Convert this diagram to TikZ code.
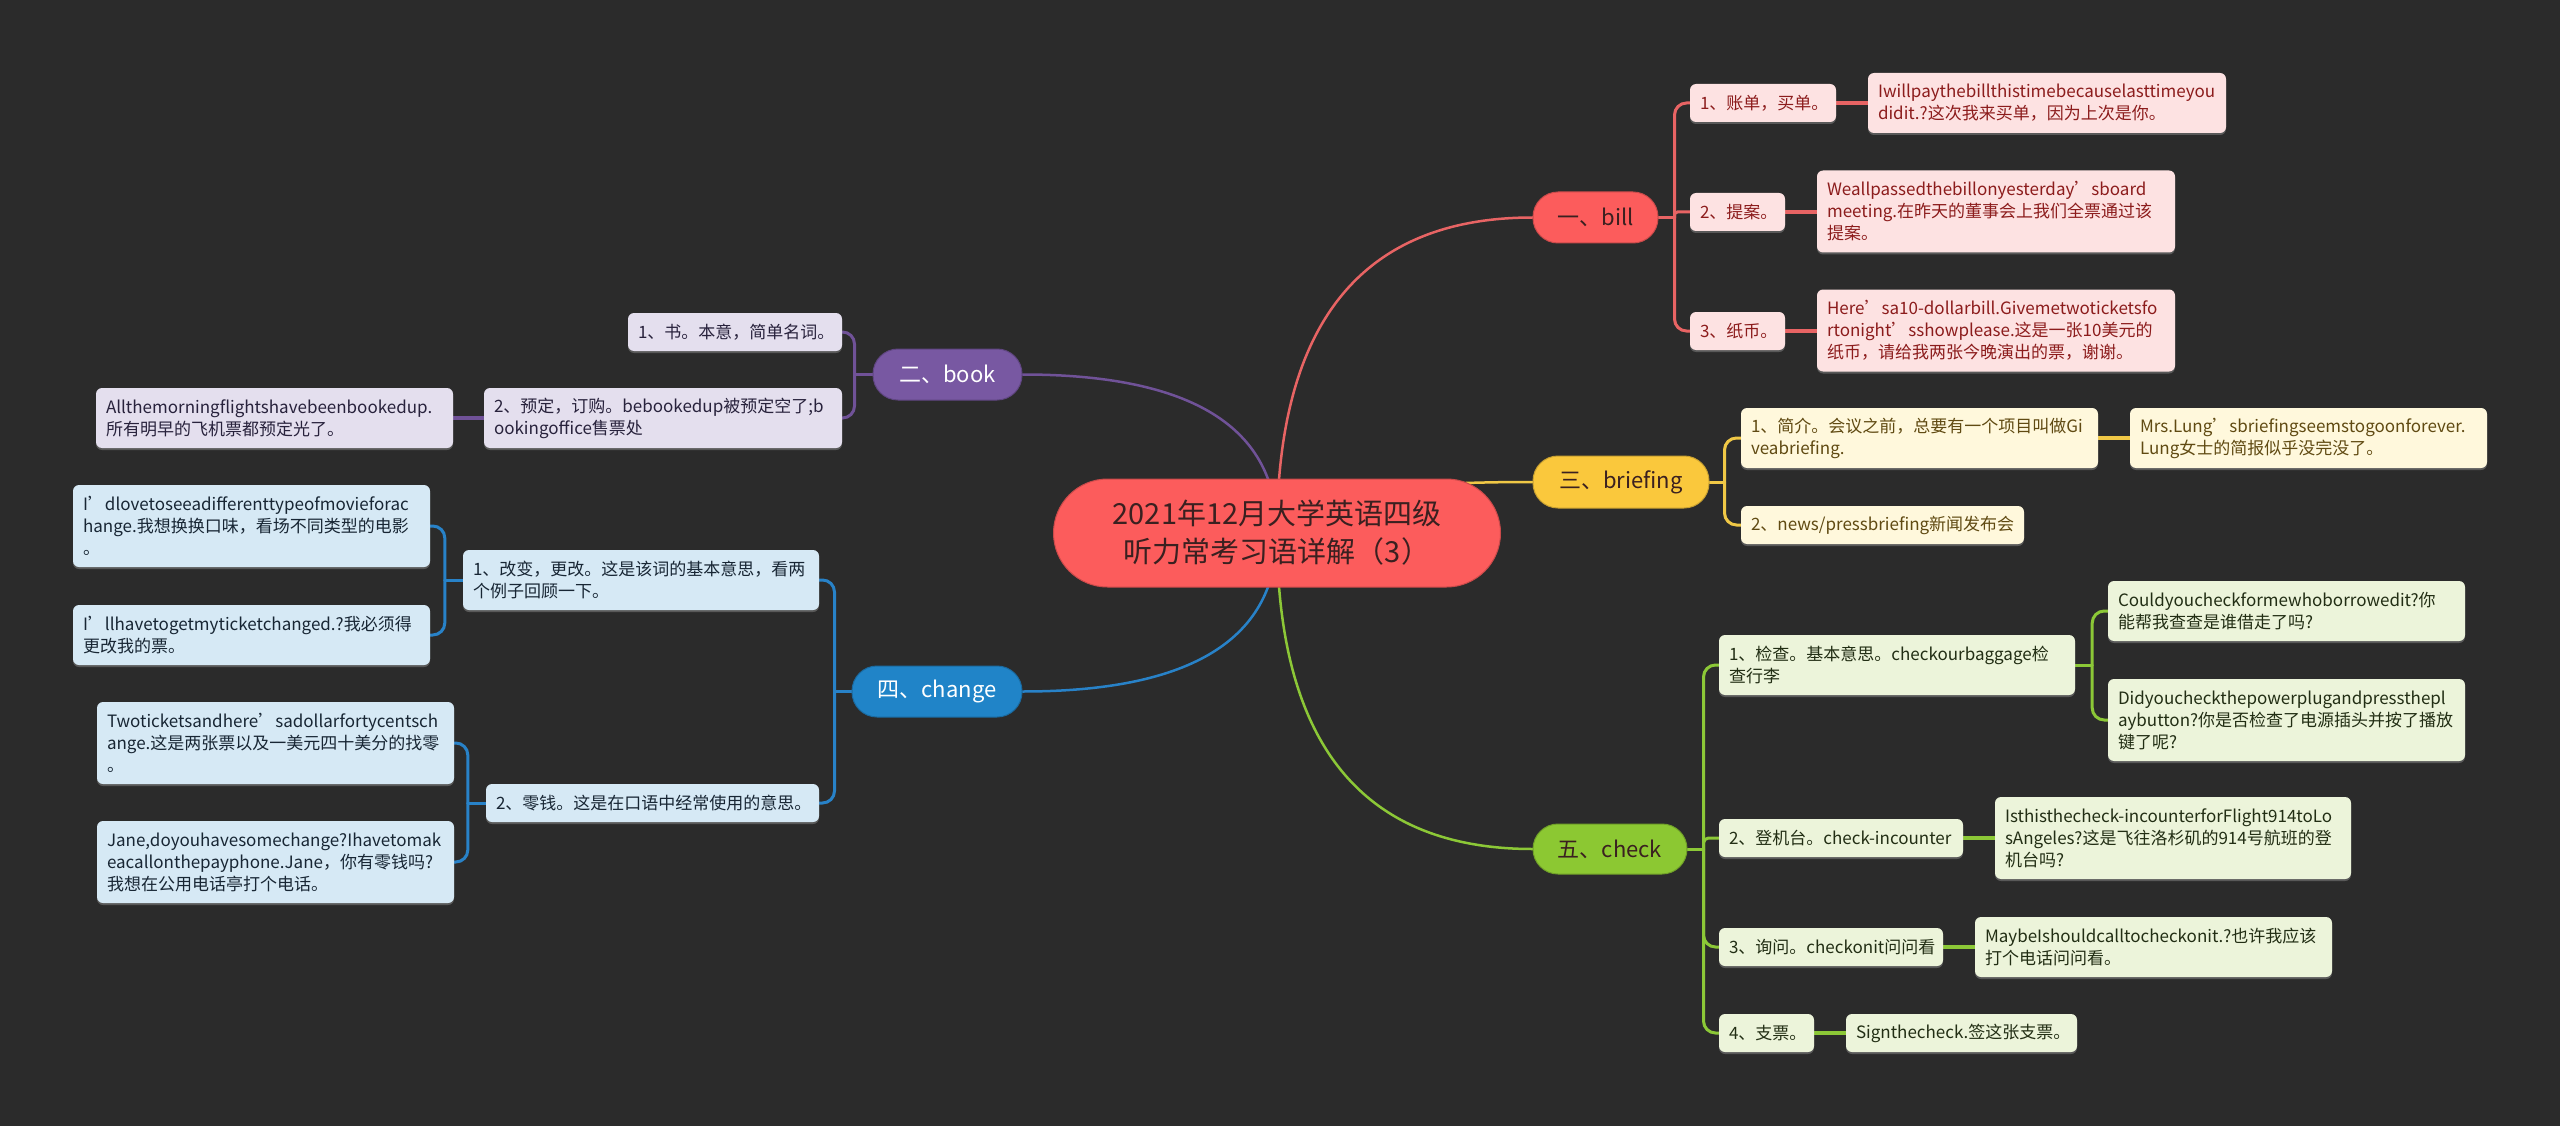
\documentclass[tikz,border=0pt]{standalone}
\usepackage{fontspec}
\setmainfont{Noto Sans CJK SC}
\usetikzlibrary{shadows,calc,backgrounds}
\definecolor{bgc}{RGB}{43,43,43}
\definecolor{rootc}{RGB}{252,92,92}
\definecolor{roott}{RGB}{58,32,32}
% bill
\definecolor{billc}{RGB}{252,92,92}
\definecolor{billl}{RGB}{232,100,100}
\definecolor{billf}{RGB}{253,226,226}
\definecolor{billt}{RGB}{140,28,28}
% book
\definecolor{bookc}{RGB}{120,88,162}
\definecolor{bookl}{RGB}{112,82,152}
\definecolor{bookf}{RGB}{228,223,238}
\definecolor{bookt}{RGB}{40,34,60}
% briefing
\definecolor{brfc}{RGB}{250,200,60}
\definecolor{brfl}{RGB}{240,200,70}
\definecolor{brff}{RGB}{255,248,220}
\definecolor{brft}{RGB}{96,74,18}
% change
\definecolor{chgc}{RGB}{32,132,200}
\definecolor{chgl}{RGB}{40,130,200}
\definecolor{chgf}{RGB}{214,233,245}
\definecolor{chgt}{RGB}{24,38,52}
% check
\definecolor{chkc}{RGB}{140,200,50}
\definecolor{chkl}{RGB}{140,200,55}
\definecolor{chkf}{RGB}{236,244,218}
\definecolor{chkt}{RGB}{34,46,20}
\newcommand\mybox[7]{\node[#2, text width=#5pt, minimum height=#6pt] (#1) at (#3,#4) {#7};}
\begin{document}
\begin{tikzpicture}[x=1pt,y=-1pt,
  conn/.style={line width=2.5pt, line cap=round},
  subl/.style={line width=3pt, line cap=round},
  leafl/.style={line width=3.5pt},
  pill/.style={fill=#1, draw=#1!80!black, line width=1pt, rounded corners=25pt, inner sep=0pt, align=center, font=\fontsize{22}{26}\selectfont},
  box/.style 2 args={fill=#1, text=#2, rounded corners=6pt, inner xsep=10pt, inner ysep=0pt, align=left, font=\fontsize{17}{22}\selectfont, drop shadow={shadow xshift=0pt, shadow yshift=-2pt, opacity=0.55}},
  rootbox/.style={fill=rootc, draw=rootc!80!black, line width=1pt, text=roottext, rounded corners=54pt, minimum width=447pt, minimum height=108pt, inner sep=0pt, align=center, font=\fontsize{29}{38}\selectfont}
]
\colorlet{roottext}{roott}
\begin{scope}[on background layer]
\fill[bgc] (0,0) rectangle (2560,1126);
\end{scope}
\useasboundingbox (0,0) rectangle (2560,1126);

% root
\node[rootbox] (root) at (1277,533) {2021年12月大学英语四级\\听力常考习语详解（3）};

% main topics
\node[pill=billc, text=roott, minimum width=125pt, minimum height=51pt] (bill) at (1595.5,217.5) {一、bill};
\node[pill=bookc, text=white, minimum width=149pt, minimum height=51pt] (book) at (947.5,374.5) {二、book};
\node[pill=brfc, text=roott, minimum width=176pt, minimum height=52pt] (brf) at (1621,482) {三、briefing};
\node[pill=chgc, text=white, minimum width=170pt, minimum height=51pt] (chg) at (937,691.5) {四、change};
\node[pill=chkc, text=roott, minimum width=154pt, minimum height=50pt] (chk) at (1610,849) {五、check};

% bill
\mybox{bc1}{box={billf}{billt}}{1763}{103}{126}{38}{1、账单，买单。}
\mybox{bl1}{box={billf}{billt}}{2047}{103}{338}{60}{Iwillpaythebillthistimebecauselasttimeyou\\didit.?这次我来买单，因为上次是你。}
\mybox{bc2}{box={billf}{billt}}{1737.5}{212}{75}{38}{2、提案。}
\mybox{bl2}{box={billf}{billt}}{1996}{211.5}{338}{82}{Weallpassedthebillonyesterday’sboard\\meeting.在昨天的董事会上我们全票通过该\\提案。}
\mybox{bc3}{box={billf}{billt}}{1737.5}{331}{75}{38}{3、纸币。}
\mybox{bl3}{box={billf}{billt}}{1996}{330.5}{338}{82}{Here’sa10-dollarbill.Givemetwoticketsfo\\rtonight’sshowplease.这是一张10美元的\\纸币，请给我两张今晚演出的票，谢谢。}

% briefing
\mybox{rc1}{box={brff}{brft}}{1919.5}{438}{337}{60}{1、简介。会议之前，总要有一个项目叫做Gi\\veabriefing.}
\mybox{rl1}{box={brff}{brft}}{2308.5}{438}{337}{60}{Mrs.Lung’sbriefingseemstogoonforever.\\Lung女士的简报似乎没完没了。}
\mybox{rc2}{box={brff}{brft}}{1882.5}{525}{263}{38}{2、news/pressbriefing新闻发布会}

% check
\mybox{kc1}{box={chkf}{chkt}}{1897}{665}{336}{60}{1、检查。基本意思。checkourbaggage检\\查行李}
\mybox{kl1a}{box={chkf}{chkt}}{2286.5}{611}{337}{60}{Couldyoucheckformewhoborrowedit?你\\能帮我查查是谁借走了吗?}
\mybox{kl1b}{box={chkf}{chkt}}{2286.5}{720}{337}{82}{Didyoucheckthepowerplugandpressthepl\\aybutton?你是否检查了电源插头并按了播放\\键了呢?}
\mybox{kc2}{box={chkf}{chkt}}{1841}{838}{224}{38}{2、登机台。check-incounter}
\mybox{kl2}{box={chkf}{chkt}}{2173}{838}{336}{82}{Isthisthecheck-incounterforFlight914toLo\\sAngeles?这是飞往洛杉矶的914号航班的登\\机台吗?}
\mybox{kc3}{box={chkf}{chkt}}{1831}{947}{204}{38}{3、询问。checkonit问问看}
\mybox{kl3}{box={chkf}{chkt}}{2153.5}{947}{337}{60}{MaybeIshouldcalltocheckonit.?也许我应该\\打个电话问问看。}
\mybox{kc4}{box={chkf}{chkt}}{1766.5}{1033}{75}{38}{4、支票。}
\mybox{kl4}{box={chkf}{chkt}}{1961.5}{1033}{211}{38}{Signthecheck.签这张支票。}

% book
\mybox{oc1}{box={bookf}{bookt}}{735}{332}{194}{38}{1、书。本意，简单名词。}
\mybox{oc2}{box={bookf}{bookt}}{663}{418}{338}{60}{2、预定，订购。bebookedup被预定空了;b\\ookingoffice售票处}
\mybox{ol}{box={bookf}{bookt}}{274.5}{418}{337}{60}{Allthemorningflightshavebeenbookedup.\\所有明早的飞机票都预定光了。}

% change
\mybox{gc1}{box={chgf}{chgt}}{641}{580}{336}{60}{1、改变，更改。这是该词的基本意思，看两\\个例子回顾一下。}
\mybox{gl1a}{box={chgf}{chgt}}{251.5}{526}{337}{82}{I’dlovetoseeadifferenttypeofmovieforac\\hange.我想换换口味，看场不同类型的电影\\。}
\mybox{gl1b}{box={chgf}{chgt}}{251.5}{635}{337}{60}{I’llhavetogetmyticketchanged.?我必须得\\更改我的票。}
\mybox{gc2}{box={chgf}{chgt}}{652.5}{803}{313}{38}{2、零钱。这是在口语中经常使用的意思。}
\mybox{gl2a}{box={chgf}{chgt}}{275.5}{743}{337}{82}{Twoticketsandhere’sadollarfortycentsch\\ange.这是两张票以及一美元四十美分的找零\\。}
\mybox{gl2b}{box={chgf}{chgt}}{275.5}{862}{337}{82}{Jane,doyouhavesomechange?Ihavetomak\\eacallonthepayphone.Jane，你有零钱吗?\\我想在公用电话亭打个电话。}

% connectors
\begin{scope}[on background layer]
% root to main topics (quadratic curves)
\foreach \t/\c in {bill.west/billl, book.east/bookl, brf.west/brfl, chg.east/chgl, chk.west/chkl} {
  \draw[conn, \c] (root.center) .. controls ($(root.center)!0.6667!(root.center |- \t)$) and ($(\t)!0.6667!(root.center |- \t)$) .. (\t);
}
% bill
\coordinate (bj) at ($(bill.east)+(16,0)$);
\draw[subl, billl] (bill.east) -- (bj);
\draw[subl, billl, rounded corners=12pt] (bj) |- (bc1.west);
\draw[subl, billl, rounded corners=3pt] (bj) |- (bc2.west);
\draw[subl, billl, rounded corners=12pt] (bj) |- (bc3.west);
\draw[leafl, billl] (bc1.east) -- (bl1.west |- bc1.east);
\draw[leafl, billl] (bc2.east) -- (bl2.west |- bc2.east);
\draw[leafl, billl] (bc3.east) -- (bl3.west |- bc3.east);
% briefing
\coordinate (rj) at ($(brf.east)+(15,0)$);
\draw[subl, brfl] (brf.east) -- (rj);
\draw[subl, brfl, rounded corners=12pt] (rj) |- (rc1.west);
\draw[subl, brfl, rounded corners=12pt] (rj) |- (rc2.west);
\draw[leafl, brfl] (rc1.east) -- (rl1.west);
% check
\coordinate (kj) at ($(chk.east)+(16,0)$);
\draw[subl, chkl] (chk.east) -- (kj);
\draw[subl, chkl, rounded corners=12pt] (kj) |- (kc1.west);
\draw[subl, chkl, rounded corners=5pt] (kj) |- (kc2.west);
\draw[subl, chkl, rounded corners=12pt] (kj) |- (kc3.west);
\draw[subl, chkl, rounded corners=12pt] (kj) |- (kc4.west);
\coordinate (kj1) at ($(kc1.east)+(17,0)$);
\draw[subl, chkl] (kc1.east) -- (kj1);
\draw[subl, chkl, rounded corners=12pt] (kj1) |- (kl1a.west);
\draw[subl, chkl, rounded corners=12pt] (kj1) |- (kl1b.west);
\draw[leafl, chkl] (kc2.east) -- (kl2.west);
\draw[leafl, chkl] (kc3.east) -- (kl3.west);
\draw[leafl, chkl] (kc4.east) -- (kl4.west);
% book
\coordinate (oj) at ($(book.west)+(-18,0)$);
\draw[subl, bookl] (book.west) -- (oj);
\draw[subl, bookl, rounded corners=12pt] (oj) |- (oc1.east);
\draw[subl, bookl, rounded corners=12pt] (oj) |- (oc2.east);
\draw[leafl, bookl] (oc2.west) -- (ol.east);
% change
\coordinate (gj) at ($(chg.west)+(-17,0)$);
\draw[subl, chgl] (chg.west) -- (gj);
\draw[subl, chgl, rounded corners=12pt] (gj) |- (gc1.east);
\draw[subl, chgl, rounded corners=12pt] (gj) |- (gc2.east);
\coordinate (gj1) at ($(gc1.west)+(-18,0)$);
\draw[subl, chgl] (gc1.west) -- (gj1);
\draw[subl, chgl, rounded corners=12pt] (gj1) |- (gl1a.east);
\draw[subl, chgl, rounded corners=12pt] (gj1) |- (gl1b.east);
\coordinate (gj2) at ($(gc2.west)+(-18,0)$);
\draw[subl, chgl] (gc2.west) -- (gj2);
\draw[subl, chgl, rounded corners=12pt] (gj2) |- (gl2a.east);
\draw[subl, chgl, rounded corners=12pt] (gj2) |- (gl2b.east);
\end{scope}
\end{tikzpicture}
\end{document}
